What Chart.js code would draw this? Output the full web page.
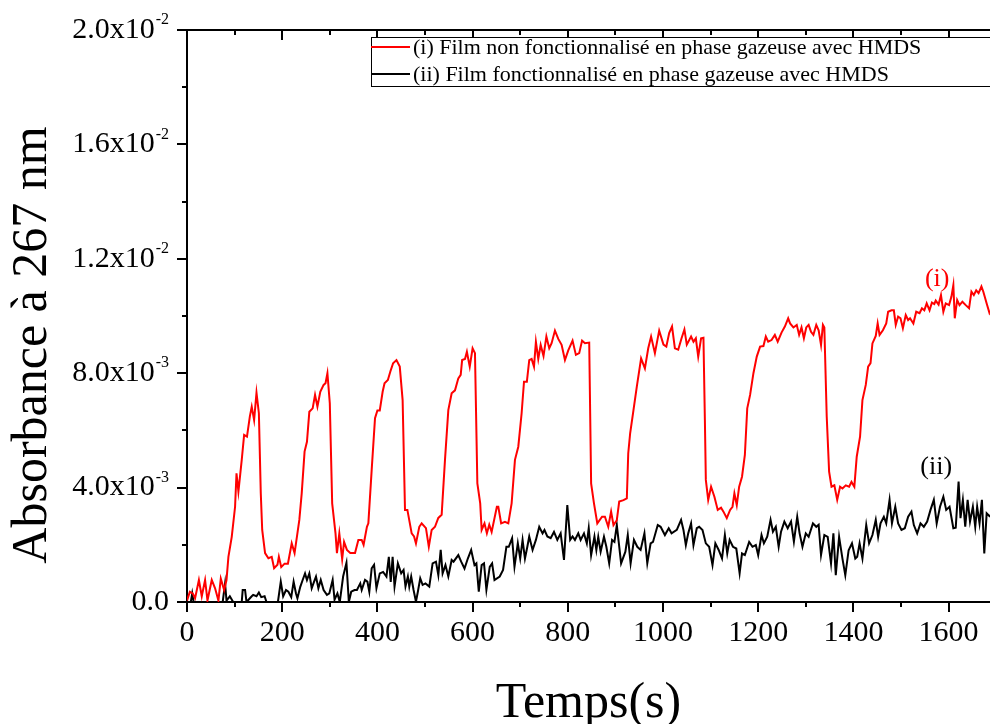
<!DOCTYPE html>
<html>
<head>
<meta charset="utf-8">
<script src="https://cdn.jsdelivr.net/npm/chart.js@4.4.1/dist/chart.umd.min.js"></script>
<style>
  html, body { margin: 0; padding: 0; background: #fff; overflow: hidden; }
  #c { display: block; }
</style>
</head>
<body>
<canvas id="c" width="990" height="724"></canvas>
<script>
// ---- DATA (absorbance values in units of 10^-3) ----
const labelI = "(i) Film non fonctionnalisé en phase gazeuse avec HMDS";
const labelII = "(ii) Film fonctionnalisé en phase gazeuse avec HMDS";
const xTitle = "Temps(s)";
const yTitle = "Absorbance à 267 nm";
const yTickMantissa = ["0.0", "4.0x10", "8.0x10", "1.2x10", "1.6x10", "2.0x10"];
const yTickExponent = ["", "-3", "-3", "-2", "-2", "-2"];
const curveTags = ["(i)", "(ii)"];
const VALUE_UNIT = 1e-3;

const timesI = [0,6,12,17,25,31,38,43,52,59,66,71,78,83,87,94,101,104,108,115,120,126,132,136,141,146,151,155,158,164,171,178,183,190,193,198,205,212,220,226,236,241,247,252,257,264,269,274,280,287,291,295,300,305,312,315,320,326,330,336,343,353,360,367,371,378,381,388,395,400,405,411,415,422,428,433,440,447,453,458,463,472,477,481,488,493,502,508,514,521,528,535,542,549,556,563,570,575,578,584,588,594,600,605,610,616,619,625,630,635,640,651,654,660,668,675,682,689,696,703,708,714,719,724,729,733,738,743,749,755,761,766,773,780,787,794,801,810,817,824,830,836,845,849,855,862,872,878,885,891,896,903,908,917,924,927,931,938,945,954,962,969,975,983,992,1001,1007,1013,1019,1025,1032,1039,1045,1050,1059,1064,1069,1074,1080,1085,1088,1090,1095,1101,1108,1115,1122,1127,1134,1141,1146,1150,1155,1160,1166,1172,1177,1183,1190,1197,1204,1211,1216,1221,1228,1235,1241,1249,1256,1263,1267,1274,1281,1286,1291,1296,1301,1306,1311,1316,1322,1327,1332,1336,1339,1344,1349,1354,1360,1366,1372,1377,1384,1391,1396,1402,1407,1414,1419,1426,1431,1436,1440,1447,1451,1455,1462,1469,1473,1480,1485,1489,1494,1499,1504,1510,1515,1519,1526,1532,1539,1544,1549,1554,1560,1565,1570,1573,1579,1584,1589,1594,1601,1606,1610,1613,1618,1623,1629,1636,1643,1648,1653,1658,1663,1669,1673,1680,1686,1690];
const absI = [0.05,0.36,0.3,0.13,0.77,0.2,0.77,0.05,0.77,0.48,0.05,0.82,0.42,0.77,1.58,2.28,3.33,4.5,3.86,4.97,5.84,5.78,6.48,6.83,6.36,7.32,6.6,3.8,2.52,1.71,1.53,1.58,1.18,1.3,1.58,1.22,1.34,1.34,2.05,1.71,2.87,3.8,5.26,5.6,6.65,6.77,7.24,6.83,7.35,7.59,7.65,8.0,6.95,3.45,2.4,1.71,2.4,1.5,2.1,1.82,1.71,1.71,2.17,2.17,2.0,2.63,2.75,4.62,6.43,6.7,6.7,7.35,7.65,7.76,8.1,8.35,8.46,8.23,7.06,3.22,3.22,2.4,2.29,2.05,2.63,2.75,2.58,1.93,2.52,2.63,2.94,3.05,4.97,6.71,7.3,7.4,7.82,7.94,8.46,8.5,8.75,8.23,8.87,8.7,4.15,3.45,2.52,2.75,2.4,2.7,2.45,3.33,3.33,2.75,2.8,2.75,3.45,4.97,5.43,6.6,7.7,7.7,8.46,8.5,8.23,9.1,8.5,8.99,8.6,9.28,8.87,9.05,9.49,9.2,8.99,8.46,8.8,9.14,8.64,8.7,9.14,9.05,9.07,4.15,3.45,2.75,2.98,2.98,2.63,3.16,2.69,2.86,3.51,3.56,3.62,5.2,5.9,6.71,7.53,8.52,8.17,8.87,9.28,8.7,9.49,9.0,8.93,9.4,9.63,8.87,8.82,9.22,9.53,9.0,9.28,9.1,9.22,8.58,9.22,9.24,6.36,4.27,3.57,4.03,3.68,3.22,3.3,3.16,2.93,3.22,3.33,3.8,3.39,4.03,4.38,5.14,6.77,7.24,8.0,8.58,8.93,8.95,9.28,9.1,9.16,9.34,9.1,9.42,9.63,9.92,9.74,9.6,9.69,9.34,9.6,9.22,9.6,9.69,9.45,9.34,9.69,9.5,8.99,9.69,9.6,6.48,4.56,4.03,4.08,3.57,4.03,3.97,4.08,4.03,4.2,4.03,5.08,5.78,7.06,7.59,8.23,8.35,9.04,9.3,9.74,9.34,9.5,9.74,10.15,10.2,10.2,9.69,9.98,9.92,9.57,10.03,9.86,9.92,9.74,10.15,10.1,10.27,10.2,10.44,10.2,10.47,10.42,10.54,10.4,10.73,10.15,10.44,10.38,10.68,11.08,9.92,10.56,10.38,10.5,10.38,10.27,10.85,10.73,10.9,10.8,11.03,10.85,10.44,10.1,10.2];

const timesII = [0,8,11,14,60,75,80,83,90,97,115,117,122,125,136,139,146,151,156,163,167,191,197,202,208,213,219,224,229,232,238,243,248,252,257,262,267,271,276,281,287,294,299,306,310,316,321,328,335,340,345,352,357,364,367,374,379,383,388,393,398,405,412,419,424,428,432,436,443,450,455,459,464,467,471,476,481,485,490,495,501,509,516,523,528,533,537,543,549,556,560,570,576,583,590,597,604,608,613,619,624,629,636,641,646,657,664,671,676,683,688,695,700,705,710,715,719,726,733,740,747,751,757,764,771,778,785,792,799,805,810,815,822,827,834,840,844,849,856,860,864,869,876,881,887,893,898,903,912,921,926,932,939,946,953,961,967,974,979,989,995,1004,1012,1018,1029,1038,1043,1048,1053,1059,1064,1071,1076,1083,1090,1097,1104,1110,1117,1124,1130,1135,1140,1147,1154,1161,1166,1172,1181,1188,1195,1200,1207,1212,1219,1226,1231,1237,1243,1248,1255,1262,1269,1275,1282,1287,1293,1300,1306,1315,1322,1327,1332,1339,1346,1353,1358,1363,1370,1377,1383,1390,1397,1404,1408,1413,1419,1427,1433,1440,1447,1452,1457,1464,1469,1476,1481,1488,1494,1501,1508,1515,1522,1527,1534,1541,1548,1555,1562,1569,1575,1582,1589,1595,1602,1610,1615,1621,1625,1630,1635,1640,1645,1651,1656,1660,1665,1670,1675,1680,1686,1690];
const absII = [0,0,0.3,0,0,0,0.65,0.05,0.2,0,0,0.42,0.42,0,0.2,0.25,0.2,0.33,0.17,0.2,0,0,0.71,0.2,0.42,0.36,0.17,0.71,0.3,0.13,0.53,0.77,1.0,0.77,1.0,0.48,0.71,0.89,0.48,0.77,0.42,0.25,0.3,0.77,0.08,0.3,0,0.89,1.37,0,0.36,0.42,0.42,0.65,0.42,0.77,0.71,0.36,1.18,1.3,0.48,1.0,1.05,0.89,1.58,0.7,1.58,0.54,1.35,1.0,1.12,0.54,0.89,0.54,0.89,0.42,0.01,0.36,0.83,0.6,0.65,0.54,1.35,1.41,0.94,1.82,1.0,1.29,0.89,1.47,1.41,1.64,1.41,1.17,1.52,1.82,1.29,1.35,0.36,1.29,1.35,0.42,1.23,1.35,0.77,0.89,1.12,1.93,1.93,2.23,1.23,2.05,1.52,2.17,1.52,1.93,2.29,1.82,2.17,2.63,2.4,2.52,2.29,2.23,2.45,2.17,2.4,1.47,3.39,2.17,2.29,2.17,2.4,2.17,2.4,2.05,2.58,1.64,2.29,1.82,2.28,1.76,2.28,1.93,1.35,2.17,2.1,2.69,1.35,1.76,2.34,1.35,2.17,1.93,1.82,2.4,1.35,2.05,2.1,2.69,2.63,2.34,2.58,2.4,2.52,2.87,2.52,1.99,2.4,2.75,1.99,2.58,2.63,2.52,2.05,1.93,1.29,2.05,1.82,1.52,2.34,1.7,2.17,1.93,1.87,1.0,1.7,1.64,2.1,1.93,1.99,1.64,2.34,2.05,2.28,2.87,2.46,2.63,1.93,2.46,2.81,2.58,2.81,2.11,2.98,2.4,1.93,2.4,2.28,2.75,2.63,2.7,1.64,2.34,2.28,1.35,2.4,0.94,2.28,1.52,0.94,1.81,2.05,1.52,1.58,2.05,1.52,2.69,2.05,2.34,2.87,2.28,2.75,2.98,2.75,3.57,2.75,3.33,2.75,2.52,2.58,2.98,3.16,2.69,2.4,2.75,2.63,2.81,3.22,3.57,2.75,3.33,3.68,3.22,3.33,2.58,2.6,4.21,2.93,3.57,2.63,3.57,2.81,3.33,2.63,3.33,2.75,3.57,1.7,3.1,3.0,3.05];

const toPoints = (ts, vs) => ts.map((t, i) => ({ x: t, y: vs[i] * VALUE_UNIT }));

const FONT = "'Liberation Serif', 'DejaVu Serif', serif";
Chart.defaults.font.family = FONT;
Chart.defaults.color = '#000';

const framePlugin = {
  id: 'frame',
  afterDraw(chart) {
    const ctx = chart.ctx;
    const a = chart.chartArea;
    const xs = chart.scales.x, ys = chart.scales.y;
    const opts = chart.options.plugins.frame;
    ctx.save();
    ctx.strokeStyle = '#000';
    ctx.lineWidth = 2;
    // top axis line
    ctx.beginPath();
    ctx.moveTo(a.left, a.top); ctx.lineTo(a.right + 2, a.top);
    ctx.stroke();
    // top ticks (inward) & bottom minor ticks (outward)
    for (let t = 0; t <= xs.max; t += 100) {
      const px = Math.round(xs.getPixelForValue(t));
      const major = t % 200 === 0;
      ctx.beginPath();
      ctx.moveTo(px, a.top); ctx.lineTo(px, a.top + (major ? 10 : 5));
      ctx.stroke();
      if (!major) {
        ctx.beginPath();
        ctx.moveTo(px, a.bottom); ctx.lineTo(px, a.bottom + 5);
        ctx.stroke();
      }
    }
    // left minor ticks
    for (let k = 0; k < 5; k++) {
      const v = 0.002 + 0.004 * k;
      const py = Math.round(ys.getPixelForValue(v));
      ctx.beginPath();
      ctx.moveTo(a.left, py); ctx.lineTo(a.left - 5, py);
      ctx.stroke();
    }
    // y tick labels with superscript exponents
    ctx.fillStyle = '#000';
    ctx.textBaseline = 'middle';
    ys.ticks.forEach((tk, i) => {
      const py = ys.getPixelForValue(tk.value);
      const exp = yTickExponent[i];
      const xEnd = opts.yLabelRight;
      if (exp) {
        ctx.font = "16px " + FONT;
        const ew = ctx.measureText(exp).width;
        ctx.textAlign = 'left';
        ctx.fillText(exp, xEnd - ew, py - 10);
        ctx.font = "30px " + FONT;
        ctx.textAlign = 'right';
        ctx.fillText(yTickMantissa[i], xEnd - ew - 1, py);
      } else {
        ctx.font = "30px " + FONT;
        ctx.textAlign = 'right';
        ctx.fillText(yTickMantissa[i], xEnd, py);
      }
    });
    // curve tags
    ctx.font = "26px " + FONT;
    ctx.textAlign = 'center';
    ctx.textBaseline = 'middle';
    opts.tags.forEach((tp, i) => {
      ctx.fillStyle = tp.color;
      ctx.fillText(curveTags[i], xs.getPixelForValue(tp.x), ys.getPixelForValue(tp.y));
    });
    // y title
    ctx.fillStyle = '#000';
    ctx.font = "50px " + FONT;
    ctx.translate(33, 345);
    ctx.rotate(-Math.PI / 2);
    ctx.fillText(yTitle, 0, 0);
    ctx.restore();

    // legend box
    const lg = opts.legend;
    ctx.save();
    ctx.fillStyle = '#fff';
    ctx.fillRect(lg.x, lg.y, lg.w, lg.h);
    ctx.strokeStyle = '#000';
    ctx.lineWidth = 1;
    ctx.strokeRect(lg.x + 0.5, lg.y + 0.5, lg.w, lg.h);
    ctx.font = "22px " + FONT;
    ctx.textAlign = 'left';
    ctx.textBaseline = 'middle';
    chart.data.datasets.forEach((ds, i) => {
      const y = lg.y + lg.row0 + i * lg.rowGap;
      ctx.strokeStyle = ds.borderColor;
      ctx.lineWidth = 2;
      ctx.beginPath();
      ctx.moveTo(lg.x, y); ctx.lineTo(lg.x + lg.line, y);
      ctx.stroke();
      ctx.fillStyle = '#000';
      ctx.fillText(ds.label, lg.x + lg.line + 3, y + 1);
    });
    ctx.restore();
  }
};

new Chart(document.getElementById('c'), {
  type: 'line',
  data: {
    datasets: [
      { label: labelI, data: toPoints(timesI, absI), borderColor: '#ff0000', borderWidth: 2, pointRadius: 0, tension: 0 },
      { label: labelII, data: toPoints(timesII, absII), borderColor: '#000000', borderWidth: 2, pointRadius: 0, tension: 0 }
    ]
  },
  options: {
    responsive: false,
    animation: false,
    devicePixelRatio: 1,
    layout: { padding: { top: 30, right: 0, left: 0, bottom: 0 } },
    plugins: {
      legend: { display: false },
      tooltip: { enabled: false },
      frame: {
        yLabelRight: 169,
        legend: { x: 371, y: 37, w: 640, h: 49, row0: 10, rowGap: 27, line: 39 },
        tags: [ { x: 1576, y: 0.0113, color: '#ff0000' }, { x: 1574, y: 0.00472, color: '#000' } ]
      }
    },
    scales: {
      x: {
        type: 'linear',
        min: 0, max: 1687,
        afterFit(s) { s.height = 122; },
        border: { display: true, color: '#000', width: 2 },
        grid: { drawOnChartArea: false, drawTicks: true, tickLength: 10, color: '#000', lineWidth: 2 },
        ticks: { stepSize: 200, includeBounds: false, maxRotation: 0, padding: 3, font: { size: 30 }, color: '#000',
                 callback: v => String(v) },
        title: { display: true, text: xTitle, font: { size: 50, lineHeight: 0.8 }, color: '#000', padding: { top: 0, bottom: 0 } }
      },
      y: {
        min: 0, max: 0.02,
        afterFit(s) { s.width = 187; },
        border: { display: true, color: '#000', width: 2 },
        grid: { drawOnChartArea: false, drawTicks: true, tickLength: 10, color: '#000', lineWidth: 2 },
        ticks: { display: false, stepSize: 0.004 }
      }
    }
  },
  plugins: [framePlugin]
});
</script>
</body>
</html>
